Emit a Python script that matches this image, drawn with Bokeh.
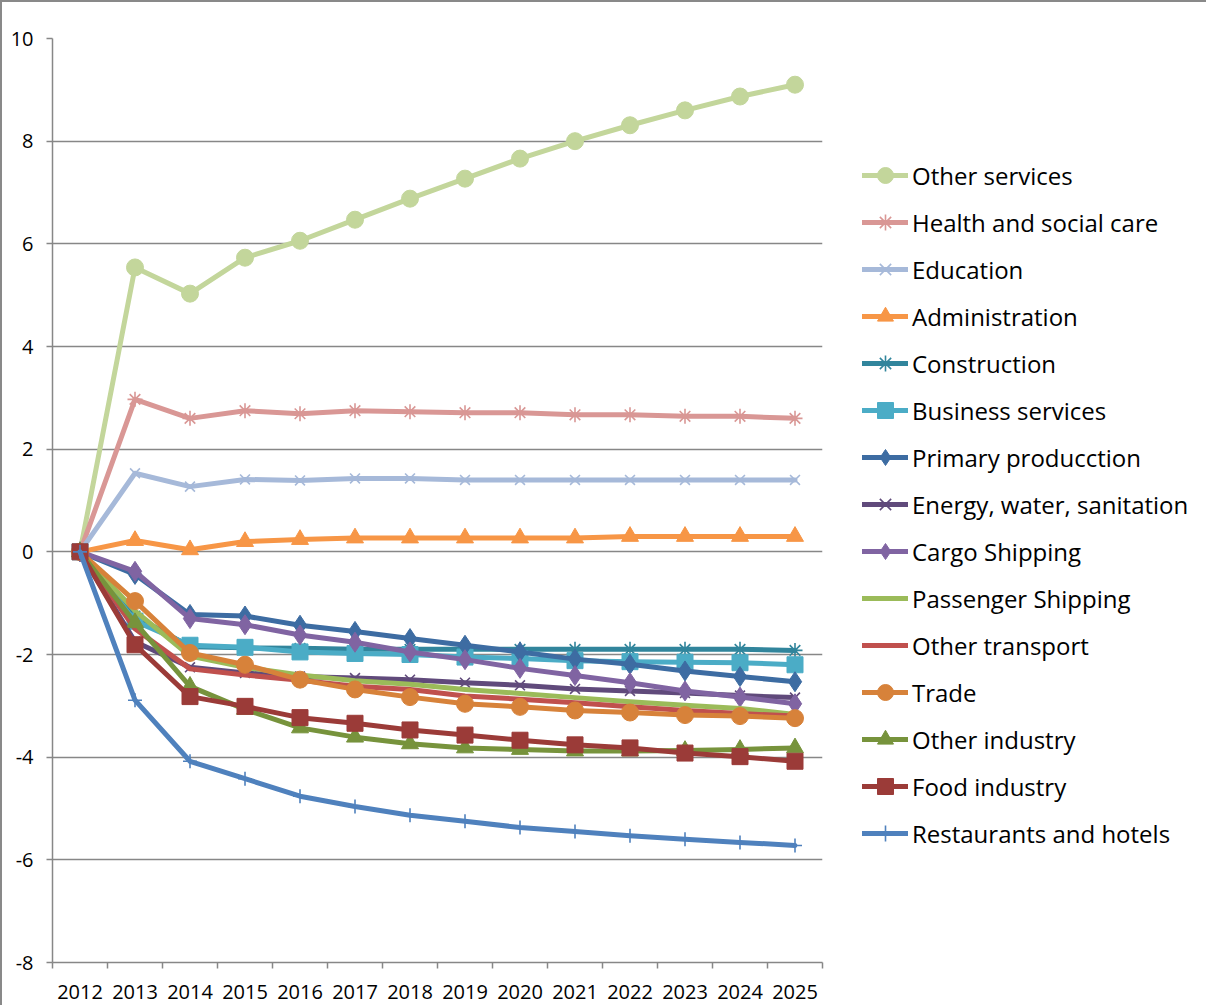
from bokeh.plotting import figure
from bokeh.models import Legend, LegendItem, FixedTicker, Range1d
from bokeh.embed import file_html
from bokeh.resources import INLINE

years = [2012, 2013, 2014, 2015, 2016, 2017, 2018, 2019, 2020, 2021, 2022, 2023, 2024, 2025]
year_labels = [str(y) for y in years]
y_ticks = [-8, -6, -4, -2, 0, 2, 4, 6, 8, 10]
y_tick_labels = ["-8", "-6", "-4", "-2", "0", "2", "4", "6", "8", "10"]

other_services = [0, 5.54, 5.03, 5.73, 6.06, 6.47, 6.88, 7.27, 7.66, 8.0, 8.31, 8.6, 8.87, 9.1]
health = [0, 2.97, 2.6, 2.75, 2.69, 2.75, 2.73, 2.71, 2.71, 2.67, 2.67, 2.64, 2.64, 2.6]
education = [0, 1.53, 1.27, 1.41, 1.39, 1.43, 1.43, 1.4, 1.4, 1.4, 1.4, 1.4, 1.4, 1.4]
administration = [0, 0.22, 0.04, 0.2, 0.24, 0.27, 0.27, 0.27, 0.27, 0.27, 0.3, 0.3, 0.3, 0.3]
construction = [0, -1.25, -1.85, -1.87, -1.88, -1.9, -1.9, -1.9, -1.9, -1.9, -1.9, -1.9, -1.9, -1.92]
business = [0, -1.35, -1.82, -1.86, -1.95, -1.98, -2.0, -2.05, -2.08, -2.12, -2.14, -2.15, -2.16, -2.2]
primary = [0, -0.44, -1.22, -1.25, -1.43, -1.55, -1.69, -1.82, -1.95, -2.09, -2.19, -2.32, -2.43, -2.53]
energy = [0, -1.75, -2.25, -2.36, -2.43, -2.46, -2.49, -2.55, -2.6, -2.67, -2.71, -2.75, -2.8, -2.84]
cargo = [0, -0.38, -1.3, -1.42, -1.62, -1.76, -1.95, -2.1, -2.27, -2.41, -2.55, -2.71, -2.83, -2.96]
passenger = [0, -1.15, -2.03, -2.25, -2.4, -2.51, -2.58, -2.68, -2.76, -2.84, -2.92, -2.99, -3.05, -3.17]
other_transport = [0, -1.5, -2.28, -2.4, -2.5, -2.62, -2.68, -2.81, -2.87, -2.94, -3.02, -3.09, -3.15, -3.2]
trade = [0, -0.96, -1.97, -2.2, -2.49, -2.68, -2.83, -2.96, -3.02, -3.09, -3.13, -3.18, -3.2, -3.24]
other_industry = [0, -1.38, -2.62, -3.07, -3.43, -3.61, -3.74, -3.82, -3.85, -3.88, -3.88, -3.87, -3.85, -3.82]
food = [0, -1.81, -2.82, -3.01, -3.23, -3.34, -3.47, -3.57, -3.67, -3.76, -3.82, -3.92, -3.99, -4.08]
restaurants = [0, -2.89, -4.08, -4.42, -4.76, -4.96, -5.13, -5.25, -5.37, -5.45, -5.53, -5.6, -5.66, -5.72]

series = [
    ("Other services", other_services, "#C3D69B", "circle", 17),
    ("Health and social care", health, "#D99795", "asterisk", 15),
    ("Education", education, "#A6B9D9", "x", 14),
    ("Administration", administration, "#F79646", "triangle", 17),
    ("Construction", construction, "#31859C", "asterisk", 15),
    ("Business services", business, "#4BACC6", "square", 16),
    ("Primary producction", primary, "#3D6CA2", "diamond", 20),
    ("Energy, water, sanitation", energy, "#604A7B", "x", 14),
    ("Cargo Shipping", cargo, "#8064A2", "diamond", 20),
    ("Passenger Shipping", passenger, "#9BBB59", None, 0),
    ("Other transport", other_transport, "#C0504D", None, 0),
    ("Trade", trade, "#D7823A", "circle", 17),
    ("Other industry", other_industry, "#77933C", "triangle", 17),
    ("Food industry", food, "#9B3B38", "square", 16),
    ("Restaurants and hotels", restaurants, "#4F81BD", "cross", 14),
]

FONT = "Open Sans"
GRID = "#878787"

p = figure(frame_width=770, frame_height=924,
           x_range=Range1d(2011.5, 2025.5), y_range=Range1d(-8, 10),
           output_backend="svg", toolbar_location=None,
           min_border_left=50, min_border_right=0, min_border_top=36, min_border_bottom=43)
p.outline_line_color = None
p.background_fill_color = "white"
p.border_fill_color = "white"
p.styles = {"border-top": "2px solid #898989", "border-left": "2px solid #898989"}

items = []
for name, vals, color, marker, size in series:
    rs = []
    rs.append(p.line(years, vals, line_color=color, line_width=5, line_join="round", line_cap="round"))
    if marker is not None:
        if marker in ("x", "asterisk", "cross"):
            rs.append(p.scatter(years, vals, marker=marker, size=size, line_color=color, line_width=1.6,
                                fill_color=None))
        else:
            rs.append(p.scatter(years, vals, marker=marker, size=size, line_color=color, fill_color=color,
                                line_width=1))
    items.append(LegendItem(label=name, renderers=rs))

# axes
p.xaxis.ticker = FixedTicker(ticks=years, minor_ticks=[y - 0.5 for y in years] + [years[-1] + 0.5])
p.xaxis.major_label_overrides = {y: l for y, l in zip(years, year_labels)}
p.xaxis.major_tick_out = 0
p.xaxis.major_tick_in = 0
p.xaxis.minor_tick_out = 6
p.xaxis.minor_tick_in = 0
p.xaxis.minor_tick_line_color = GRID
p.xaxis.minor_tick_line_width = 1.5
p.xaxis.axis_line_color = GRID
p.xaxis.axis_line_width = 1.5
p.xaxis.major_label_standoff = 16
p.xaxis.major_label_text_font = FONT
p.xaxis.major_label_text_font_size = "20px"
p.xaxis.major_label_text_color = "black"

p.yaxis.ticker = FixedTicker(ticks=y_ticks, minor_ticks=[])
p.yaxis.major_label_overrides = {t: l for t, l in zip(y_ticks, y_tick_labels)}
p.yaxis.major_tick_out = 6
p.yaxis.major_tick_in = 0
p.yaxis.major_tick_line_color = GRID
p.yaxis.major_tick_line_width = 1.5
p.yaxis.axis_line_color = GRID
p.yaxis.axis_line_width = 1.5
p.yaxis.major_label_standoff = 13
p.yaxis.major_label_text_font = FONT
p.yaxis.major_label_text_font_size = "20px"
p.yaxis.major_label_text_color = "black"

p.xgrid.grid_line_color = None
p.ygrid.ticker = FixedTicker(ticks=y_ticks)
p.ygrid.grid_line_color = GRID
p.ygrid.grid_line_width = 1.5

legend = Legend(items=items, location=(40, 109), orientation="vertical")
legend.glyph_width = 46
legend.glyph_height = 40
legend.label_standoff = 4
legend.spacing = 7
legend.padding = 0
legend.margin = 0
legend.border_line_color = None
legend.background_fill_alpha = 0
legend.label_text_font = FONT
legend.label_text_font_size = "24px"
legend.label_text_color = "black"
legend.label_height = 20
p.add_layout(legend, "right")

open("out.html", "w").write(file_html(p, INLINE))
